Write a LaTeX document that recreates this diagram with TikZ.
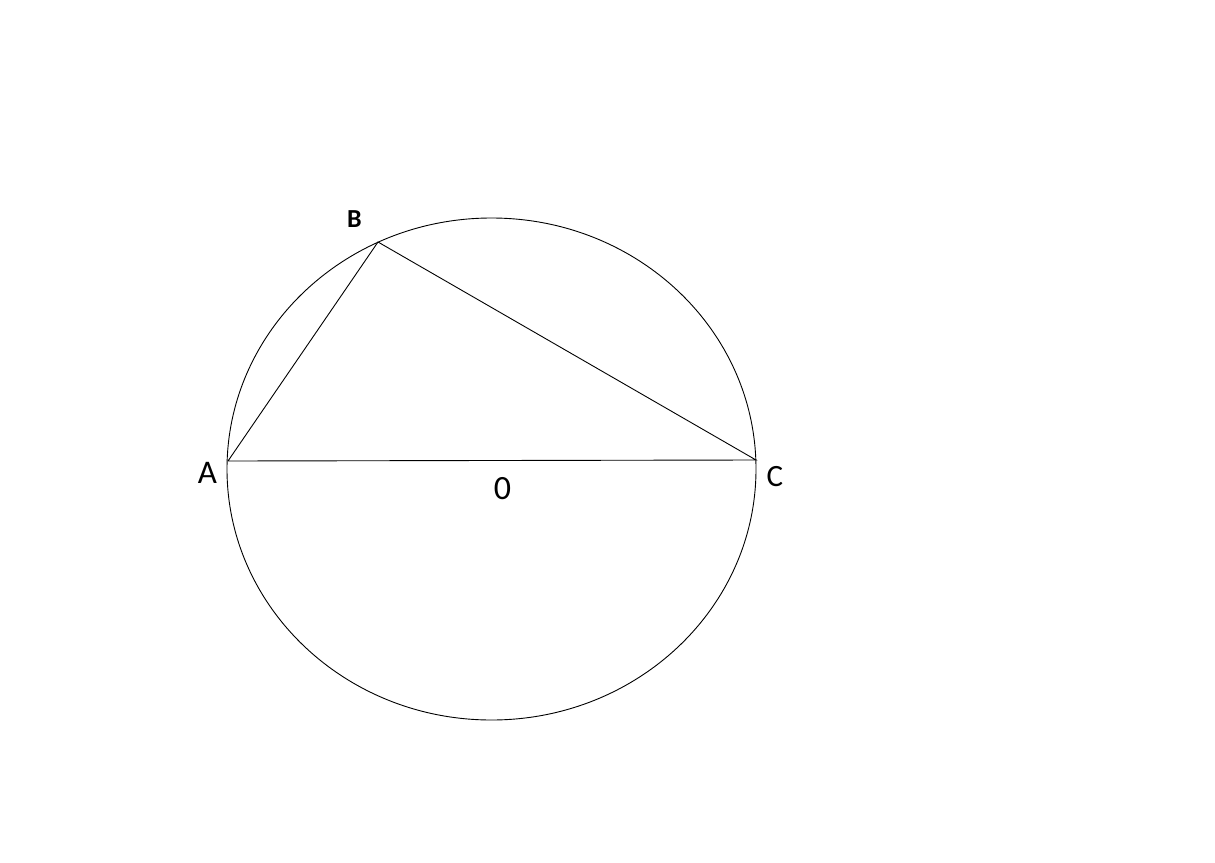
\documentclass[tikz,border=0pt]{standalone}
\usepackage{fontspec}
\setmainfont{Carlito}
\begin{document}
\begin{tikzpicture}[x=1pt,y=-1pt,line width=0.9pt,
  lbl/.style={inner sep=0pt,anchor=center}]
\useasboundingbox (0,0) rectangle (1215,862);
\fill[white] (0,0) rectangle (1215,862);
\coordinate (O) at (491.5,469);
\coordinate (A) at (228,461);
\coordinate (B) at (378,242);
\coordinate (C) at (756,460);
\draw (O) ellipse [x radius=264.5, y radius=251];
\draw (A) -- (B) -- (C) -- (A);
\node[lbl,font=\fontsize{33}{36}\selectfont] (la) at (207.5,472.5) {A};
\node[lbl,font=\fontsize{26}{30}\selectfont\bfseries] (lb) at (354.5,219.5) {B};
\node[lbl,font=\fontsize{31}{34}\selectfont] (lc) at (775,476.5) {C};
\node[lbl,font=\fontsize{34}{38}\selectfont] (lo) at (502.5,489) {0};
\end{tikzpicture}
\end{document}
